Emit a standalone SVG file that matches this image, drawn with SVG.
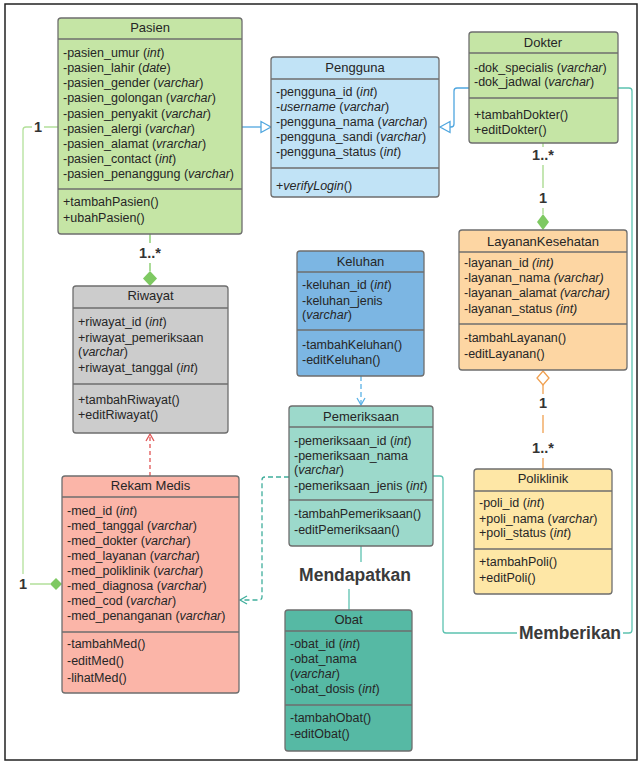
<svg xmlns="http://www.w3.org/2000/svg" width="642" height="764" viewBox="0 0 642 764">
<style>
.box{stroke:#6e6e6e;stroke-width:1.3}
.sep{stroke:#6e6e6e;stroke-width:1.3}
text{font-family:"Liberation Sans",Arial,sans-serif;fill:#262626}
.t{font-size:13px;text-anchor:middle}
.a{font-size:12.5px}
i,.i{font-style:italic}
.lbl{font-size:14.5px;font-weight:bold;text-anchor:middle;fill:#333}
.big{font-size:17.5px;font-weight:bold;text-anchor:middle;fill:#3a3a3a}
.c{fill:none;stroke-width:1.3}
</style>
<rect x="5" y="4" width="632" height="756" fill="#fff" stroke="#222" stroke-width="1.5"/>

<g id="connectors">
  <!-- Pasien -> Pengguna -->
  <path class="c" stroke="#4fa6df" d="M242,127 H261"/>
  <polygon points="271,127 261,121.5 261,132.5" fill="#fff" stroke="#4fa6df" stroke-width="1.3"/>
  <!-- Dokter -> Pengguna -->
  <path class="c" stroke="#4fa6df" d="M469,88 H457 Q454,88 454,91 V124 Q454,127 451,127 H450"/>
  <polygon points="440,127 450,121.5 450,132.5" fill="#fff" stroke="#4fa6df" stroke-width="1.3"/>
  <!-- Memberikan -->
  <path class="c" stroke="#5cc2b0" d="M618,88 H629 Q632,88 632,91 V630 Q632,633 629,633 H623"/>
  <path class="c" stroke="#5cc2b0" d="M517,633 H446 Q443,633 443,630 V479 Q443,476 440,476 H433"/>
  <text class="big" x="570" y="639">Memberikan</text>
  <!-- Mendapatkan -->
  <path class="c" stroke="#5cc2b0" d="M361,546 V562"/>
  <path class="c" stroke="#5cc2b0" d="M349,589 V610"/>
  <text class="big" x="355" y="581">Mendapatkan</text>
  <!-- Dokter - Layanan -->
  <path class="c" stroke="#a6d98a" d="M543,143 V147 M543,165 V188 M543,208 V214"/>
  <text class="lbl" x="543" y="160">1..*</text>
  <text class="lbl" x="543" y="203">1</text>
  <polygon points="543,214 549,222 543,230 537,222" fill="#7ec962"/>
  <!-- Layanan - Poliklinik -->
  <polygon points="543,371 549,378 543,385 537,378" fill="#fff" stroke="#f0a050" stroke-width="1.3"/>
  <path class="c" stroke="#f0a050" d="M543,385 V394 M543,415 V433 M543,458 V469"/>
  <text class="lbl" x="543" y="408">1</text>
  <text class="lbl" x="543" y="453">1..*</text>
  <!-- Pasien - Riwayat -->
  <path class="c" stroke="#7ec962" d="M150,234 V243 M150,263 V271"/>
  <text class="lbl" x="150" y="258">1..*</text>
  <polygon points="150,271 157,278.5 150,286 143,278.5" fill="#7ec962"/>
  <!-- Pasien - Rekam Medis -->
  <path class="c" stroke="#b3e09a" stroke-width="1.6" d="M58,127 H44 M32,127 H26 Q23,127 23,130 V574 M30,584 H50"/>
  <text class="lbl" x="38" y="132">1</text>
  <text class="lbl" x="23" y="589">1</text>
  <polygon points="50,584 56,578 62,584 56,590" fill="#7ec962"/>
  <!-- Rekam Medis -> Riwayat -->
  <path class="c" stroke="#e05555" stroke-dasharray="4,3" d="M150,476 V435"/>
  <path class="c" stroke="#e05555" d="M146,441 L150,434 L154,441"/>
  <!-- Keluhan -> Pemeriksaan -->
  <path class="c" stroke="#5ab2e6" stroke-width="1.5" stroke-dasharray="5,3" d="M361,376 V404"/>
  <path class="c" stroke="#5ab2e6" d="M357,398 L361,405 L365,398"/>
  <!-- Pemeriksaan -> Rekam Medis -->
  <path class="c" stroke="#3fae9c" stroke-dasharray="5,3" d="M289,477 H265 Q262,477 262,480 V597 Q262,600 259,600 H241"/>
  <path class="c" stroke="#3fae9c" d="M247,596 L240,600 L247,604"/>
</g>

<g id="Pasien">
  <rect class="box" x="58" y="18" width="184" height="216" rx="3" fill="#c5e5a5"/>
  <line class="sep" x1="58" y1="39" x2="242" y2="39"/>
  <line class="sep" x1="58" y1="189" x2="242" y2="189"/>
  <text class="t" x="150" y="32">Pasien</text>
  <text class="a" x="63" y="57">-pasien_umur (<tspan class="i">int</tspan>)</text>
  <text class="a" x="63" y="72">-pasien_lahir (<tspan class="i">date</tspan>)</text>
  <text class="a" x="63" y="87">-pasien_gender (<tspan class="i">varchar</tspan>)</text>
  <text class="a" x="63" y="102">-pasien_golongan (<tspan class="i">varchar</tspan>)</text>
  <text class="a" x="63" y="118">-pasien_penyakit (<tspan class="i">varchar</tspan>)</text>
  <text class="a" x="63" y="133">-pasien_alergi (<tspan class="i">varchar</tspan>)</text>
  <text class="a" x="63" y="148">-pasien_alamat (<tspan class="i">vrarchar</tspan>)</text>
  <text class="a" x="63" y="163">-pasien_contact (<tspan class="i">int</tspan>)</text>
  <text class="a" x="63" y="178">-pasien_penanggung (<tspan class="i">varchar</tspan>)</text>
  <text class="a" x="63" y="206">+tambahPasien()</text>
  <text class="a" x="63" y="222">+ubahPasien()</text>
</g>

<g id="Pengguna">
  <rect class="box" x="271" y="57" width="168" height="140" rx="3" fill="#c1e3f6"/>
  <line class="sep" x1="271" y1="79" x2="439" y2="79"/>
  <line class="sep" x1="271" y1="168" x2="439" y2="168"/>
  <text class="t" x="355" y="72">Pengguna</text>
  <text class="a" x="276" y="96">-pengguna_id (<tspan class="i">int</tspan>)</text>
  <text class="a" x="276" y="111">-<tspan class="i">username</tspan> (<tspan class="i">varchar</tspan>)</text>
  <text class="a" x="276" y="126">-pengguna_nama (<tspan class="i">varchar</tspan>)</text>
  <text class="a" x="276" y="141">-pengguna_sandi (<tspan class="i">varchar</tspan>)</text>
  <text class="a" x="276" y="156">-pengguna_status (<tspan class="i">int</tspan>)</text>
  <text class="a" x="276" y="190">+<tspan class="i">verifyLogin</tspan>()</text>
</g>

<g id="Dokter">
  <rect class="box" x="469" y="32" width="149" height="111" rx="3" fill="#c5e5a5"/>
  <line class="sep" x1="469" y1="53" x2="618" y2="53"/>
  <line class="sep" x1="469" y1="98" x2="618" y2="98"/>
  <text class="t" x="543" y="46.5">Dokter</text>
  <text class="a" x="474" y="72">-dok_specialis (<tspan class="i">varchar</tspan>)</text>
  <text class="a" x="474" y="86">-dok_jadwal (<tspan class="i">varchar</tspan>)</text>
  <text class="a" x="474" y="119">+tambahDokter()</text>
  <text class="a" x="474" y="134">+editDokter()</text>
</g>

<g id="LayananKesehatan">
  <rect class="box" x="459" y="230" width="168" height="140" rx="3" fill="#fdd6a3"/>
  <line class="sep" x1="459" y1="252" x2="627" y2="252"/>
  <line class="sep" x1="459" y1="324" x2="627" y2="324"/>
  <text class="t" x="543" y="245.5">LayananKesehatan</text>
  <text class="a" x="464" y="267">-layanan_id <tspan class="i">(int)</tspan></text>
  <text class="a" x="464" y="282">-layanan_nama <tspan class="i">(varchar)</tspan></text>
  <text class="a" x="464" y="297">-layanan_alamat <tspan class="i">(varchar)</tspan></text>
  <text class="a" x="464" y="313">-layanan_status <tspan class="i">(int)</tspan></text>
  <text class="a" x="464" y="342">-tambahLayanan()</text>
  <text class="a" x="464" y="358">-editLayanan()</text>
</g>

<g id="Poliklinik">
  <rect class="box" x="474" y="469" width="138" height="125" rx="3" fill="#fee7a6"/>
  <line class="sep" x1="474" y1="491" x2="612" y2="491"/>
  <line class="sep" x1="474" y1="549" x2="612" y2="549"/>
  <text class="t" x="543" y="482.5">Poliklinik</text>
  <text class="a" x="479" y="507">-poli_id (<tspan class="i">int</tspan>)</text>
  <text class="a" x="479" y="523">+poli_nama (<tspan class="i">varchar</tspan>)</text>
  <text class="a" x="479" y="537">+poli_status (<tspan class="i">int</tspan>)</text>
  <text class="a" x="479" y="566">+tambahPoli()</text>
  <text class="a" x="479" y="582">+editPoli()</text>
</g>

<g id="Keluhan">
  <rect class="box" x="297" y="251" width="127" height="125" rx="3" fill="#7cb6e3"/>
  <line class="sep" x1="297" y1="272" x2="424" y2="272"/>
  <line class="sep" x1="297" y1="330" x2="424" y2="330"/>
  <text class="t" x="360.5" y="265.5">Keluhan</text>
  <text class="a" x="302" y="289">-keluhan_id (<tspan class="i">int</tspan>)</text>
  <text class="a" x="302" y="305">-keluhan_jenis</text>
  <text class="a" x="302" y="319">(<tspan class="i">varchar</tspan>)</text>
  <text class="a" x="302" y="349">-tambahKeluhan()</text>
  <text class="a" x="302" y="364">-editKeluhan()</text>
</g>

<g id="Pemeriksaan">
  <rect class="box" x="289" y="406" width="144" height="140" rx="3" fill="#9cd9cb"/>
  <line class="sep" x1="289" y1="427" x2="433" y2="427"/>
  <line class="sep" x1="289" y1="500" x2="433" y2="500"/>
  <text class="t" x="361" y="420.5">Pemeriksaan</text>
  <text class="a" x="294" y="445">-pemeriksaan_id (<tspan class="i">int</tspan>)</text>
  <text class="a" x="294" y="460">-pemeriksaan_nama</text>
  <text class="a" x="294" y="474">(<tspan class="i">varchar</tspan>)</text>
  <text class="a" x="294" y="490">-pemeriksaan_jenis (<tspan class="i">int</tspan>)</text>
  <text class="a" x="294" y="518">-tambahPemeriksaan()</text>
  <text class="a" x="294" y="534">-editPemeriksaan()</text>
</g>

<g id="Obat">
  <rect class="box" x="285" y="610" width="127" height="141" rx="3" fill="#56b9a4"/>
  <line class="sep" x1="285" y1="631" x2="412" y2="631"/>
  <line class="sep" x1="285" y1="705" x2="412" y2="705"/>
  <text class="t" x="348.5" y="623.5">Obat</text>
  <text class="a" x="290" y="648">-obat_id (<tspan class="i">int</tspan>)</text>
  <text class="a" x="290" y="663">-obat_nama</text>
  <text class="a" x="290" y="678">(<tspan class="i">varchar</tspan>)</text>
  <text class="a" x="290" y="693">-obat_dosis (<tspan class="i">int</tspan>)</text>
  <text class="a" x="290" y="722">-tambahObat()</text>
  <text class="a" x="290" y="738">-editObat()</text>
</g>

<g id="Riwayat">
  <rect class="box" x="73" y="286" width="155" height="147" rx="3" fill="#cccccc"/>
  <line class="sep" x1="73" y1="308" x2="228" y2="308"/>
  <line class="sep" x1="73" y1="384" x2="228" y2="384"/>
  <text class="t" x="150.5" y="299.5">Riwayat</text>
  <text class="a" x="78" y="326">+riwayat_id (<tspan class="i">int</tspan>)</text>
  <text class="a" x="78" y="342">+riwayat_pemeriksaan</text>
  <text class="a" x="78" y="356">(<tspan class="i">varchar</tspan>)</text>
  <text class="a" x="78" y="372">+riwayat_tanggal (<tspan class="i">int</tspan>)</text>
  <text class="a" x="78" y="404">+tambahRiwayat()</text>
  <text class="a" x="78" y="419">+editRiwayat()</text>
</g>

<g id="RekamMedis">
  <rect class="box" x="62" y="476" width="177" height="217" rx="3" fill="#fbb5a8"/>
  <line class="sep" x1="62" y1="497" x2="239" y2="497"/>
  <line class="sep" x1="62" y1="632" x2="239" y2="632"/>
  <text class="t" x="150.5" y="489.5">Rekam Medis</text>
  <text class="a" x="67" y="515">-med_id (<tspan class="i">int</tspan>)</text>
  <text class="a" x="67" y="530">-med_tanggal (<tspan class="i">varchar</tspan>)</text>
  <text class="a" x="67" y="545">-med_dokter (<tspan class="i">varchar</tspan>)</text>
  <text class="a" x="67" y="560">-med_layanan (<tspan class="i">varchar</tspan>)</text>
  <text class="a" x="67" y="575">-med_poliklinik (<tspan class="i">varchar</tspan>)</text>
  <text class="a" x="67" y="590">-med_diagnosa (<tspan class="i">varchar</tspan>)</text>
  <text class="a" x="67" y="605">-med_cod (<tspan class="i">varchar</tspan>)</text>
  <text class="a" x="67" y="620">-med_penanganan (<tspan class="i">varchar</tspan>)</text>
  <text class="a" x="67" y="648">-tambahMed()</text>
  <text class="a" x="67" y="665">-editMed()</text>
  <text class="a" x="67" y="682">-lihatMed()</text>
</g>
</svg>
